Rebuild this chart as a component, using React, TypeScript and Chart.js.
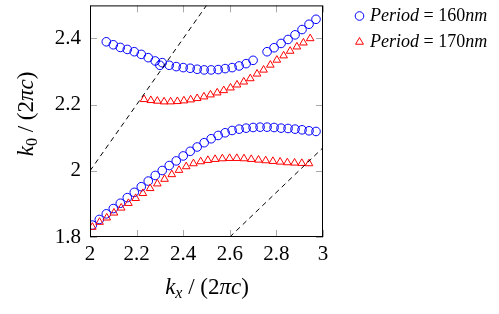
import React, { useEffect, useRef } from 'react';
import { Chart, registerables } from 'chart.js';

Chart.register(...registerables);

// ---------- data ----------
const blueLowerX = [2.01, 2.04, 2.07, 2.10, 2.13, 2.16, 2.19, 2.22, 2.25, 2.28, 2.31, 2.34, 2.37, 2.40, 2.43, 2.46, 2.49, 2.52, 2.55, 2.58, 2.61, 2.64, 2.67, 2.70, 2.73, 2.76, 2.79, 2.82, 2.85, 2.88, 2.91, 2.94, 2.97];
const blueLowerY = [1.836, 1.853, 1.870, 1.886, 1.902, 1.919, 1.935, 1.952, 1.969, 1.986, 2.001, 2.016, 2.030, 2.045, 2.059, 2.072, 2.085, 2.097, 2.107, 2.115, 2.122, 2.126, 2.129, 2.131, 2.132, 2.132, 2.131, 2.129, 2.128, 2.126, 2.124, 2.121, 2.119];

const blueUpperX = [2.07, 2.10, 2.13, 2.16, 2.19, 2.22, 2.25, 2.28, 2.30, 2.31, 2.34, 2.37, 2.40, 2.43, 2.46, 2.49, 2.52, 2.55, 2.58, 2.61, 2.64, 2.67, 2.70, 2.76, 2.79, 2.82, 2.85, 2.88, 2.91, 2.94, 2.97];
const blueUpperY = [2.390, 2.381, 2.373, 2.367, 2.360, 2.352, 2.342, 2.332, 2.319, 2.327, 2.319, 2.315, 2.312, 2.310, 2.307, 2.305, 2.305, 2.306, 2.309, 2.312, 2.317, 2.324, 2.334, 2.360, 2.372, 2.385, 2.397, 2.411, 2.427, 2.443, 2.458];

const redLowerX = [2.010, 2.041, 2.072, 2.103, 2.134, 2.165, 2.196, 2.227, 2.258, 2.289, 2.320, 2.351, 2.382, 2.413, 2.444, 2.475, 2.506, 2.537, 2.568, 2.599, 2.630, 2.661, 2.692, 2.723, 2.754, 2.785, 2.816, 2.847, 2.878, 2.909, 2.940];
const redLowerY = [1.830, 1.845, 1.858, 1.873, 1.888, 1.902, 1.917, 1.932, 1.947, 1.961, 1.975, 1.989, 2.002, 2.013, 2.022, 2.028, 2.032, 2.035, 2.037, 2.038, 2.038, 2.037, 2.035, 2.033, 2.031, 2.029, 2.027, 2.025, 2.024, 2.023, 2.022];

const redUpperX = [2.232, 2.261, 2.289, 2.318, 2.346, 2.375, 2.403, 2.432, 2.460, 2.489, 2.517, 2.546, 2.574, 2.603, 2.631, 2.660, 2.688, 2.717, 2.745, 2.774, 2.802, 2.831, 2.859, 2.888, 2.916, 2.945];
const redUpperY = [2.216, 2.213, 2.211, 2.209, 2.209, 2.210, 2.212, 2.215, 2.219, 2.224, 2.230, 2.236, 2.243, 2.251, 2.260, 2.269, 2.279, 2.293, 2.305, 2.320, 2.335, 2.348, 2.362, 2.375, 2.387, 2.400];

const lightLineX = [2.0, 2.5];
const lightLineY = [2.0, 2.5];
const bandLineX = [2.6, 3.0];
const bandLineY = [1.8, 2.07];

const xTicks = [2, 2.2, 2.4, 2.6, 2.8, 3];
const yTicks = [1.8, 2, 2.2, 2.4];
const periods = ['160', '170'];
const seriesColors = ['#0000ff', '#ff0000'];

const FAMILY = "'Liberation Serif', 'DejaVu Serif', serif";

const pts = (xs: number[], ys: number[]) => xs.map((x, i) => ({ x, y: ys[i] }));

type Seg = { t: string; font: string; dy?: number };

function measure(ctx: CanvasRenderingContext2D, segs: Seg[]) {
  return segs.map((s) => {
    ctx.font = s.font;
    return ctx.measureText(s.t).width;
  });
}

function drawRich(ctx: CanvasRenderingContext2D, segs: Seg[], cx: number, baseline: number) {
  const widths = measure(ctx, segs);
  const total = widths.reduce((a, b) => a + b, 0);
  let x = cx - total / 2;
  ctx.textAlign = 'left';
  ctx.textBaseline = 'alphabetic';
  segs.forEach((s, i) => {
    ctx.font = s.font;
    ctx.fillText(s.t, x, baseline + (s.dy || 0));
    x += widths[i];
  });
}

const it = (s: number) => `italic ${s}px ${FAMILY}`;
const up = (s: number) => `${s}px ${FAMILY}`;

const decorPlugin = {
  id: 'decor',
  afterDraw(chart: any) {
    const { ctx, chartArea: a, scales } = chart;
    const xs = scales.x;
    const ys = scales.y;
    ctx.save();
    // inward ticks
    ctx.strokeStyle = '#aaaaaa';
    ctx.lineWidth = 1;
    ctx.beginPath();
    xTicks.forEach((v) => {
      const p = Math.round(xs.getPixelForValue(v)) + 0.5;
      ctx.moveTo(p, a.top);
      ctx.lineTo(p, a.top + 7);
      ctx.moveTo(p, a.bottom);
      ctx.lineTo(p, a.bottom - 7);
    });
    yTicks.forEach((v) => {
      const p = Math.round(ys.getPixelForValue(v)) + 0.5;
      ctx.moveTo(a.left, p);
      ctx.lineTo(a.left + 7, p);
      ctx.moveTo(a.right, p);
      ctx.lineTo(a.right - 7, p);
    });
    ctx.stroke();
    // frame
    ctx.strokeStyle = '#000';
    ctx.lineWidth = 1;
    ctx.strokeRect(a.left + 0.5, a.top + 0.5, a.right - a.left - 1, a.bottom - a.top - 1);

    ctx.fillStyle = '#000';
    const big = 23;
    // x title
    drawRich(ctx, [
      { t: 'k', font: it(big) },
      { t: 'x', font: it(16), dy: 4 },
      { t: ' / (2', font: up(big) },
      { t: 'π', font: it(big) },
      { t: 'c', font: it(big) },
      { t: ')', font: up(big) },
    ], 207, 294);
    // y title
    ctx.save();
    ctx.translate(33, 114);
    ctx.rotate(-Math.PI / 2);
    drawRich(ctx, [
      { t: 'k', font: it(big) },
      { t: '0', font: up(16), dy: 4 },
      { t: ' / (2', font: up(big) },
      { t: 'π', font: it(big) },
      { t: 'c', font: it(big) },
      { t: ')', font: up(big) },
    ], 0, 0);
    ctx.restore();

    // legend
    const lx = 359.5;
    const rows = [16, 42];
    periods.forEach((p, i) => {
      const cy = rows[i];
      ctx.strokeStyle = seriesColors[i];
      ctx.lineWidth = 1;
      ctx.beginPath();
      if (i === 0) {
        ctx.arc(lx, cy, 4.3, 0, Math.PI * 2);
      } else {
        const r = 4.5;
        ctx.moveTo(lx, cy - r);
        ctx.lineTo(lx + r * 0.866, cy + r * 0.5);
        ctx.lineTo(lx - r * 0.866, cy + r * 0.5);
        ctx.closePath();
      }
      ctx.stroke();
      ctx.fillStyle = '#000';
      const segs: Seg[] = [
        { t: 'Period', font: it(18) },
        { t: ' = ' + p, font: up(18) },
        { t: 'nm', font: it(18) },
      ];
      const tot = measure(ctx, segs).reduce((x, y) => x + y, 0);
      drawRich(ctx, segs, 370 + tot / 2, cy + 5);
    });
    ctx.restore();
  },
};

export default function App() {
  const ref = useRef<HTMLCanvasElement>(null);
  useEffect(() => {
    if (!ref.current) return;
    const chart = new Chart(ref.current, {
      type: 'scatter',
      data: {
        datasets: [
          {
            label: 'light',
            data: pts(lightLineX, lightLineY),
            showLine: true,
            borderColor: '#000',
            borderWidth: 1,
            borderDash: [5, 4],
            pointRadius: 0,
            order: 1,
          },
          {
            label: 'band',
            data: pts(bandLineX, bandLineY),
            showLine: true,
            borderColor: '#000',
            borderWidth: 1,
            borderDash: [5, 4],
            pointRadius: 0,
            order: 1,
          },
          {
            label: 'Period = 170nm',
            data: [...pts(redLowerX, redLowerY), ...pts(redUpperX, redUpperY)],
            pointStyle: 'triangle',
            pointRadius: 4.4,
            borderColor: seriesColors[1],
            backgroundColor: 'rgba(0,0,0,0)',
            borderWidth: 1,
            order: 2,
          },
          {
            label: 'Period = 160nm',
            data: [...pts(blueLowerX, blueLowerY), ...pts(blueUpperX, blueUpperY)],
            pointStyle: 'circle',
            pointRadius: 4.3,
            borderColor: seriesColors[0],
            backgroundColor: 'rgba(0,0,0,0)',
            borderWidth: 1,
            order: 3,
          },
        ],
      },
      options: {
        responsive: false,
        animation: false,
        devicePixelRatio: 1,
        layout: { padding: { left: 0, right: 176, top: 2, bottom: 0 } },
        plugins: { legend: { display: false }, tooltip: { enabled: false } },
        scales: {
          x: {
            type: 'linear',
            min: 2,
            max: 3,
            grid: { display: false, drawTicks: false },
            border: { display: false },
            afterBuildTicks: (s: any) => { s.ticks = xTicks.map((v) => ({ value: v })); },
            afterFit: (s: any) => { s.height = 77; s.paddingLeft = 0; s.paddingRight = 0; },
            ticks: {
              padding: 5,
              color: '#000',
              font: { family: FAMILY, size: 21 },
              callback: (v: any) => String(Number(v)),
            },
          },
          y: {
            type: 'linear',
            min: 1.8,
            max: 2.5,
            grid: { display: false, drawTicks: false },
            border: { display: false },
            afterBuildTicks: (s: any) => { s.ticks = yTicks.map((v) => ({ value: v })); },
            afterFit: (s: any) => { s.width = 90; s.paddingTop = 0; s.paddingBottom = 0; },
            ticks: {
              padding: 9,
              color: '#000',
              font: { family: FAMILY, size: 21 },
              callback: (v: any) => String(Number(v)),
            },
          },
        },
      },
      plugins: [decorPlugin],
    } as any);
    return () => chart.destroy();
  }, []);
  return (
    <div style={{ position: 'absolute', left: 0, top: 0, width: 499, height: 314, background: '#fff' }}>
      <canvas ref={ref} width={499} height={314} style={{ display: 'block', width: 499, height: 314 }} />
    </div>
  );
}
